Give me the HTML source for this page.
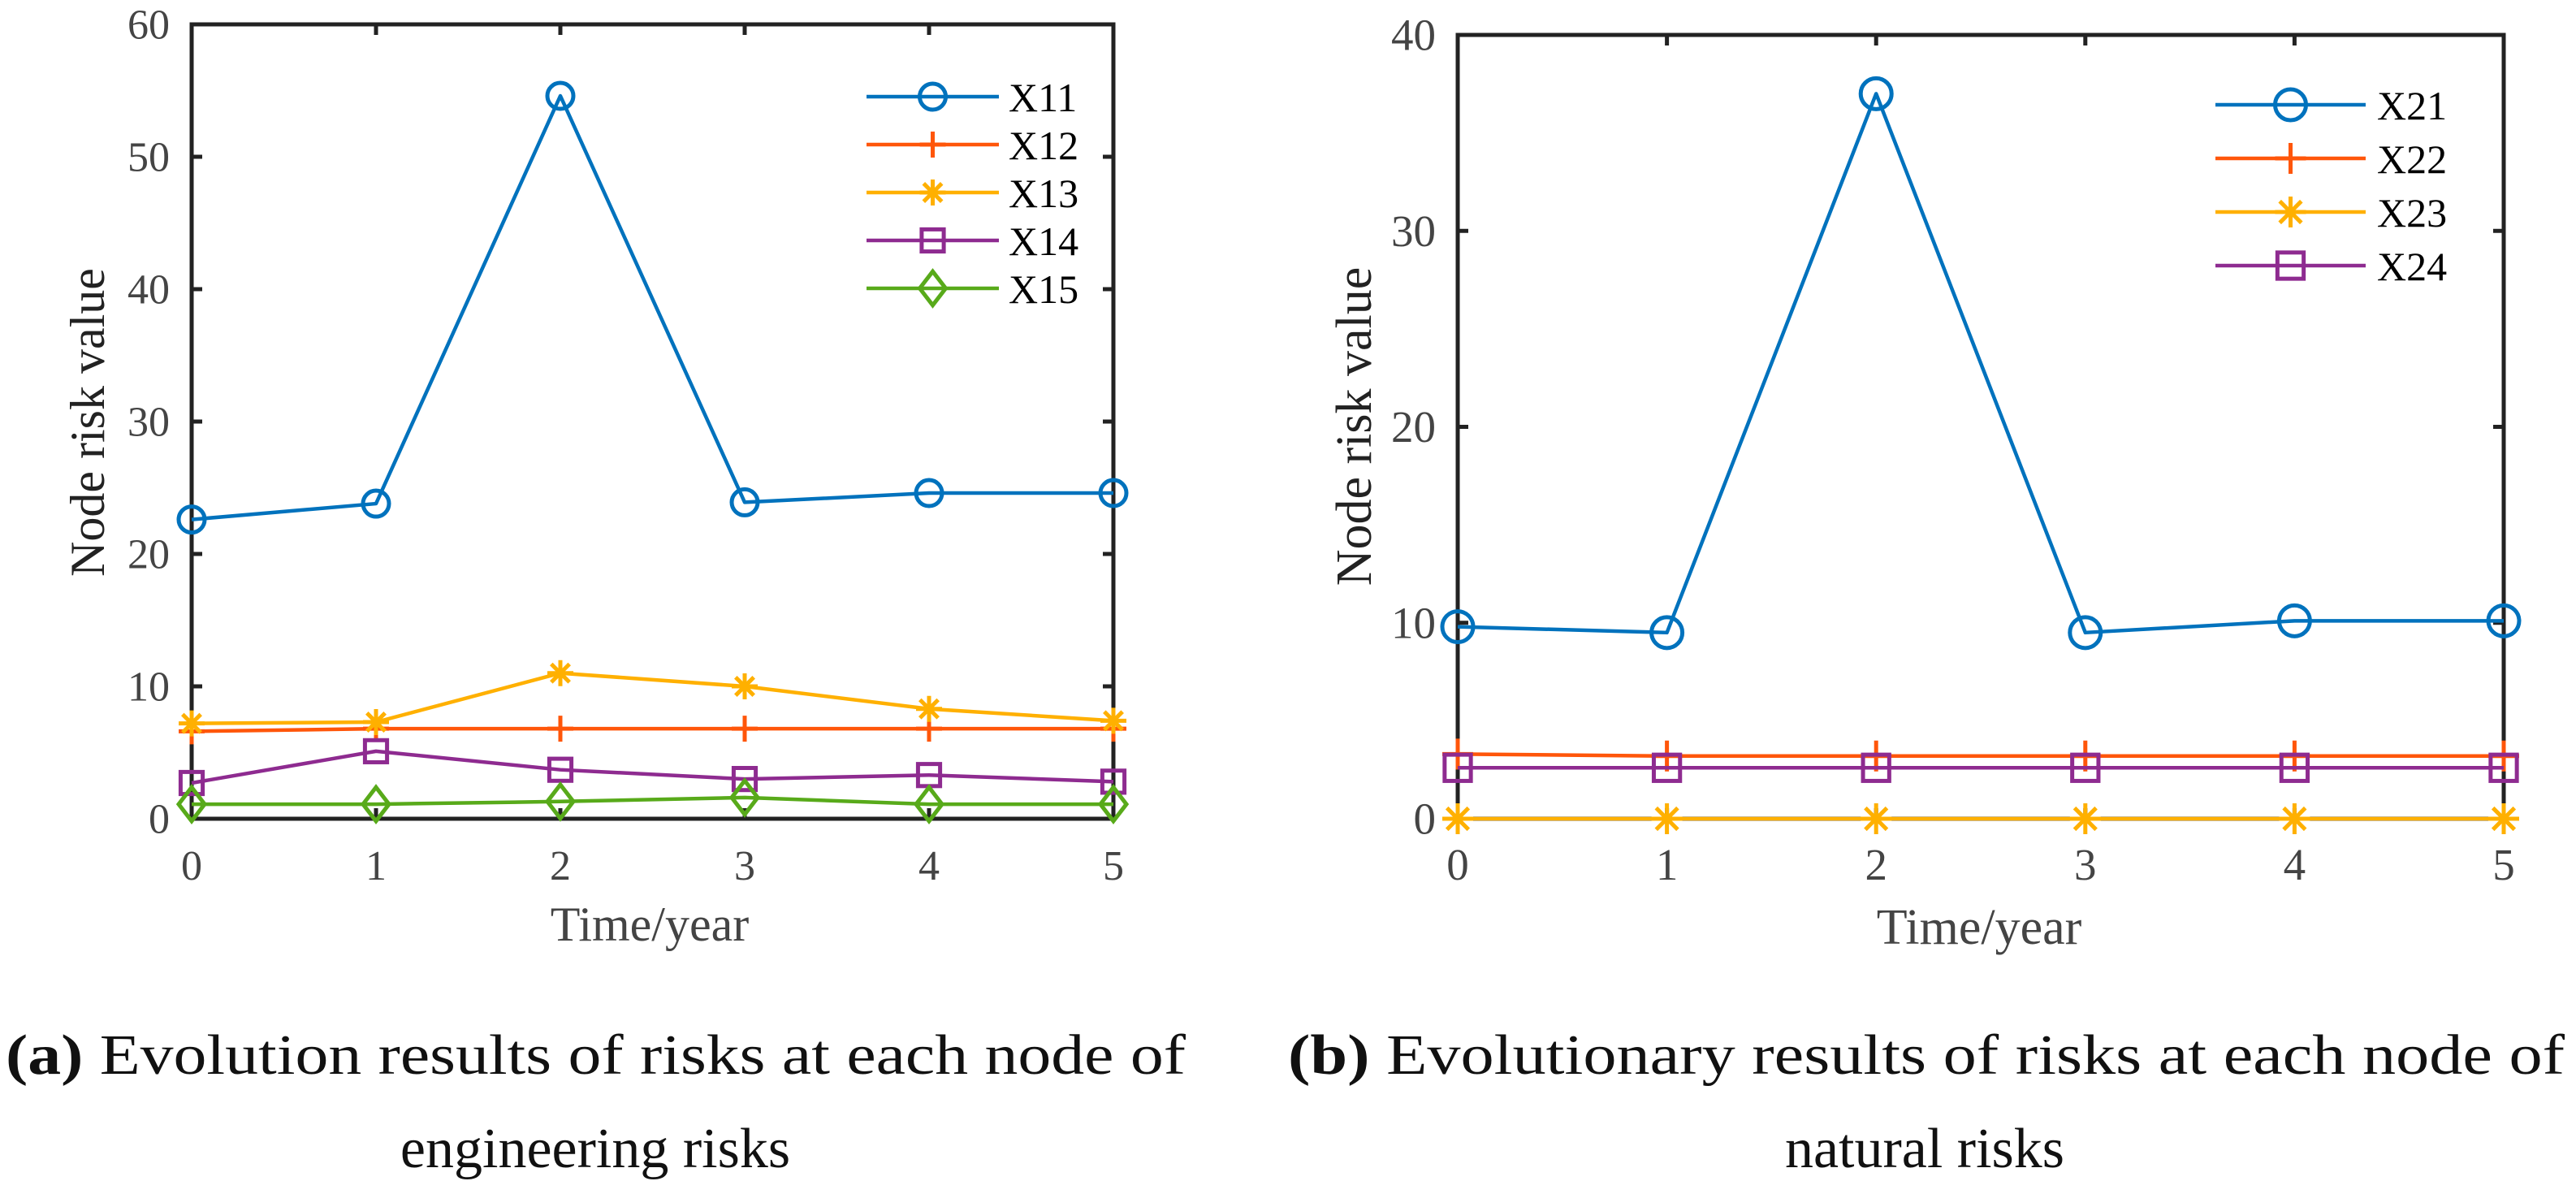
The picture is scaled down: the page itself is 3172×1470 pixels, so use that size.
<!DOCTYPE html>
<html><head><meta charset="utf-8"><style>
html,body{margin:0;padding:0;background:#fff;}
svg{display:block;}
text{font-family:"Liberation Serif",serif;}
</style></head><body>
<svg id="chart" width="3172" height="1470" viewBox="0 0 3172 1470" xmlns="http://www.w3.org/2000/svg">
<rect x="0" y="0" width="3172" height="1470" fill="#fff"/>
<g id="plotA"></g>
<g id="plotB"></g>
<text x="7" y="1322" font-size="70" fill="#111" textLength="1453" lengthAdjust="spacingAndGlyphs"><tspan font-weight="bold">(a)</tspan> Evolution results of risks at each node of</text>
<text x="733" y="1437" font-size="70" fill="#111" text-anchor="middle">engineering risks</text>
<text x="1586" y="1322" font-size="70" fill="#111" textLength="1572" lengthAdjust="spacingAndGlyphs"><tspan font-weight="bold">(b)</tspan> Evolutionary results of risks at each node of</text>
<text x="2370" y="1437" font-size="70" fill="#111" text-anchor="middle">natural risks</text>
</svg>
<script>
const xTicks = [0,1,2,3,4,5];
const yTicksA = [0,10,20,30,40,50,60];
const yTicksB = [0,10,20,30,40];
const namesA = ['X11','X12','X13','X14','X15'];
const x11 = [22.6,23.8,54.6,23.9,24.6,24.6];
const x12 = [6.6,6.8,6.8,6.8,6.8,6.8];
const x13 = [7.2,7.3,11.0,10.0,8.3,7.4];
const x14 = [2.7,5.1,3.7,3.0,3.3,2.8];
const x15 = [1.1,1.1,1.3,1.6,1.1,1.1];
const namesB = ['X21','X22','X23','X24'];
const x21 = [9.8,9.5,37.0,9.5,10.1,10.1];
const x22 = [3.3,3.2,3.2,3.2,3.2,3.2];
const x23 = [0,0,0,0,0,0];
const x24 = [2.6,2.6,2.6,2.6,2.6,2.6];

const COL = {blue:'#0072BD', orange:'#FF560A', yellow:'#FFB000', purple:'#8E2B90', green:'#58AA1A'};
const NS = 'http://www.w3.org/2000/svg';
function mk(tag, attrs, parent){const e=document.createElementNS(NS,tag);for(const k in attrs)e.setAttribute(k,attrs[k]);parent.appendChild(e);return e;}

function marker(g, type, cx, cy, color, s){
  let e;
  if(type==='circle'){e=mk('circle',{cx:cx,cy:cy,r:s,fill:'none',stroke:color,'stroke-width':5},g);}
  else if(type==='plus'){e=mk('path',{d:`M${cx-s} ${cy}H${cx+s}M${cx} ${cy-s}V${cy+s}`,stroke:color,'stroke-width':5,fill:'none'},g);}
  else if(type==='star'){const d=s*0.7;e=mk('path',{d:`M${cx-s} ${cy}H${cx+s}M${cx} ${cy-s}V${cy+s}M${cx-d} ${cy-d}L${cx+d} ${cy+d}M${cx-d} ${cy+d}L${cx+d} ${cy-d}`,stroke:color,'stroke-width':5,fill:'none'},g);}
  else if(type==='square'){const h=s*0.85;e=mk('rect',{x:cx-h,y:cy-h,width:2*h,height:2*h,stroke:color,'stroke-width':5,fill:'none'},g);}
  else if(type==='diamond'){e=mk('path',{d:`M${cx} ${cy-s*1.3}L${cx+s} ${cy}L${cx} ${cy+s*1.3}L${cx-s} ${cy}Z`,stroke:color,'stroke-width':5,fill:'none'},g);}
  return e;
}

function drawPlot(cfg){
  const g=document.getElementById(cfg.id);
  const xs=v=>cfg.x0+(cfg.x1-cfg.x0)*(v-0)/5;
  const ys=v=>cfg.y0-(cfg.y0-cfg.y1)*v/cfg.ymax;
  // axes box
  const box=mk('rect',{x:cfg.x0,y:cfg.y1,width:cfg.x1-cfg.x0,height:cfg.y0-cfg.y1,fill:'none',stroke:'#222','stroke-width':5},g);
  
  
  xTicks.forEach(t=>{
    const x=xs(t);
    mk('path',{d:`M${x} ${cfg.y0}V${cfg.y0-13}M${x} ${cfg.y1}V${cfg.y1+13}`,stroke:'#222','stroke-width':5},g);
    const tx=mk('text',{x:x,y:cfg.y0+75,'font-size':cfg.tf,fill:'#444','text-anchor':'middle'},g);
    tx.textContent=t;
    
    
  });
  cfg.yTicks.forEach(t=>{
    const y=ys(t);
    mk('path',{d:`M${cfg.x0} ${y}H${cfg.x0+13}M${cfg.x1} ${y}H${cfg.x1-13}`,stroke:'#222','stroke-width':5},g);
    const ty=mk('text',{x:cfg.x0-27,y:y+cfg.tf*0.34,'font-size':cfg.tf,fill:'#444','text-anchor':'end'},g);
    ty.textContent=t;
    
    
  });
  const xt=mk('text',{x:cfg.xtx,y:cfg.xty,'font-size':cfg.af,fill:'#444','text-anchor':'middle'},g);
  xt.textContent='Time/year';
  
  
  const yt=mk('text',{x:0,y:0,'font-size':cfg.af,fill:'#222','text-anchor':'middle',transform:`translate(${cfg.ytx},${cfg.yty}) rotate(-90)`},g);
  yt.textContent='Node risk value';
  
  
  cfg.series.forEach((s,i)=>{
    const sg=mk('g',{},g);
    
    
    const pts=s.vals.map((v,j)=>xs(xTicks[j])+','+ys(v)).join(' ');
    mk('polyline',{points:pts,fill:'none',stroke:s.color,'stroke-width':4.5,'stroke-linejoin':'round'},sg);
    s.vals.forEach((v,j)=>{
      const m=marker(sg,s.m,xs(xTicks[j]),ys(v),s.color,cfg.ms);
      
      
    });
    // legend
    const ly=cfg.leg.y0+i*cfg.leg.dy;
    const lg=mk('g',{},g);
    
    
    mk('line',{x1:cfg.leg.lx0,x2:cfg.leg.lx1,y1:ly,y2:ly,stroke:s.color,'stroke-width':4.5},lg);
    marker(lg,s.m,(cfg.leg.lx0+cfg.leg.lx1)/2+cfg.leg.moff,ly,s.color,cfg.ms);
    const lt=mk('text',{x:cfg.leg.tx,y:ly+18,'font-size':50,fill:'#000'},lg);
    lt.textContent=s.name;
  });
}

drawPlot({id:'plotA',x0:236,x1:1371,y0:1008,y1:30,ymax:60,yTicks:yTicksA,tf:52,af:60,
  xtx:800,xty:1158,ytx:128,yty:520,ms:16,
  leg:{y0:119,dy:59,lx0:1067,lx1:1230,moff:0,tx:1242},
  series:[
    {name:namesA[0],vals:x11,color:COL.blue,m:'circle'},
    {name:namesA[1],vals:x12,color:COL.orange,m:'plus'},
    {name:namesA[2],vals:x13,color:COL.yellow,m:'star'},
    {name:namesA[3],vals:x14,color:COL.purple,m:'square'},
    {name:namesA[4],vals:x15,color:COL.green,m:'diamond'}]});
drawPlot({id:'plotB',x0:1795,x1:3083,y0:1008,y1:43,ymax:40,yTicks:yTicksB,tf:55,af:62,
  xtx:2437,xty:1162,ytx:1688,yty:525,ms:19,
  leg:{y0:129,dy:66,lx0:2728,lx1:2913,moff:0,tx:2927},
  series:[
    {name:namesB[0],vals:x21,color:COL.blue,m:'circle'},
    {name:namesB[1],vals:x22,color:COL.orange,m:'plus'},
    {name:namesB[2],vals:x23,color:COL.yellow,m:'star'},
    {name:namesB[3],vals:x24,color:COL.purple,m:'square'}]});
</script>
</body></html>
